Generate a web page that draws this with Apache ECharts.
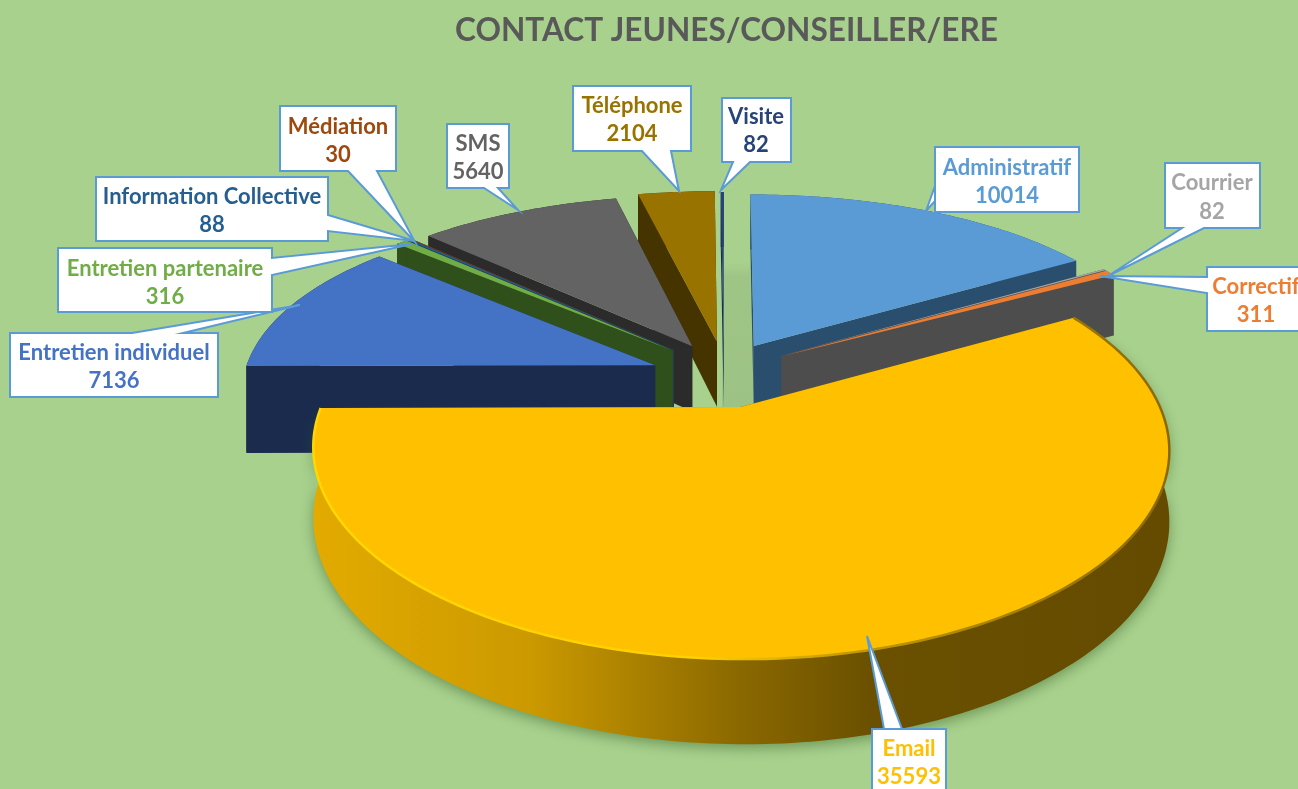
<!DOCTYPE html>
<html><head><meta charset="utf-8">
<style>html,body{margin:0;padding:0;background:#A9D18E}#c{width:1298px;height:789px}</style>
<script src="https://cdn.jsdelivr.net/npm/echarts@6/dist/echarts.min.js"></script>
</head><body><div id="c"></div>
<script>
const categories=['Administratif','Courrier','Correctif','Email','Entretien individuel','Entretien partenaire','Information Collective','Médiation','SMS','Téléphone','Visite'];
const values=[10014,82,311,35593,7136,316,88,30,5640,2104,82];
const topColors=['#5B9BD5','#A5A5A5','#ED7D31','#FFC000','#4472C4','#70AD47','#255E91','#9E480E','#636363','#997300','#264478'];
const wallColors=['#2A4E6E','#4D4D4D','#4D4D4D','#6A5000','#1A2B4E','#2F4F1B','#1B3F60','#5A2A08','#2B2B2B','#453300','#1A2F55'];
const textColors=['#5B9BD5','#A5A5A5','#ED7D31','#FFC000','#4472C4','#70AD47','#255E91','#9E480E','#636363','#997300','#264478'];
const title='CONTACT JEUNES/CONSEILLER/ERE';

// drawing layout (not data)
const drawOrder=[10,9,8,7,6,5,4,0,1,2,3];
const explode=[.15,.17,.17,.175,.18,.172,.172,.172,.16,.15,.15];
const wallH=[67,67,67,66,88,67,67,67,67,67,67];
const nudgeY=[-2,0,0,2,5,0,0,0,0,-3,-2];
const nudgeX=[0,-2,-2,-2,0,0,0,0,0,0,0];
const xPersp=[.7,.7,.7,1,.7,.7,.7,.7,.7,.7,.7];
const radiusScale=[1,1,1,.985,1,1,1,1,1,1,1];
const P={cx:724,cy:372,R:412,k:189,d:5.2};
const callouts=[
 {box:[935,147,1079,212],base:[[935,186],[935,201]],tip:[926,211],side:'l',text:[1007,168,196]},
 {box:[1165,163,1260,228],base:[[1204,228],[1182,228]],tip:[1108,276],side:'b',text:[1212,183,212]},
 {box:[1207,267,1310,331],base:[[1207,293],[1207,277]],tip:[1100,276],side:'l',text:[1256,287,315]},
 {box:[872,729,946,800],base:[[902,729],[884,729]],tip:[867,636],side:'t',text:[909,749,777]},
 {box:[10,333,218,397],base:[[132,333],[183,333]],tip:[300,305],side:'t',text:[114,353,381]},
 {box:[58,248,272,312],base:[[272,258],[272,275]],tip:[412,244],side:'r',text:[165,269,297]},
 {box:[96,177,328,241],base:[[328,215],[328,231]],tip:[415,241],side:'r',text:[212,197,225]},
 {box:[280,106,396,171],base:[[377,171],[348,171]],tip:[415,242],side:'b',text:[338,127,155]},
 {box:[447,124,509,188],base:[[498,188],[484,188]],tip:[518,210],side:'b',text:[478,144,172]},
 {box:[573,86,691,151],base:[[671,151],[642,151]],tip:[679,191],side:'b',text:[632,106,134]},
 {box:[722,98,791,162],base:[[750,162],[733,162]],tip:[721,190],side:'b',text:[756,117,145]}
];

const total=values.reduce((a,b)=>a+b,0);
const starts=[];values.reduce((acc,v,i)=>{starts[i]=acc;return acc+v/total*360;},0);
const rad=a=>a*Math.PI/180;
function project(i,X,Z,h){const s=P.d/(P.d-Z);return [P.cx+nudgeX[i]+X*P.R*radiusScale[i]*Math.pow(s,xPersp[i]),P.cy+nudgeY[i]+(Z*P.k+h)*s];}
function sliceGeom(i){
  const a0=starts[i],a1=a0+values[i]/total*360,mid=rad((a0+a1)/2),e=explode[i],H=wallH[i];
  const ox=Math.sin(mid)*e,oz=-Math.cos(mid)*e;
  const arc=(h)=>{const pts=[],n=Math.max(2,Math.ceil(a1-a0));for(let j=0;j<=n;j++){const t=rad(a0+(a1-a0)*j/n);pts.push(project(i,ox+Math.sin(t),oz-Math.cos(t),h));}return pts;};
  return {apexT:project(i,ox,oz,0),apexB:project(i,ox,oz,H),arcT:arc(0),arcB:arc(H)};
}
function renderSlice(params,api){
  const i=api.value(0),g=sliceGeom(i),n=g.arcT.length-1;
  const wall=i===3?{type:'linear',x:312,y:0,x2:1172,y2:0,global:true,colorStops:[{offset:0,color:'#E3AB00'},{offset:.25,color:'#CC9A00'},{offset:.5,color:'#8A6800'},{offset:.65,color:'#6A5000'},{offset:1,color:'#654B00'}]}:wallColors[i];
  const shadow=i===3?{shadowColor:'rgba(50,90,30,.5)',shadowBlur:14,shadowOffsetY:4}:{};
  const children=[
    {type:'polygon',shape:{points:[g.apexT,g.arcT[0],g.arcB[0],g.apexB]},style:{fill:wallColors[i]}},
    {type:'polygon',shape:{points:[g.apexT,g.arcT[n],g.arcB[n],g.apexB]},style:{fill:wallColors[i]}},
    {type:'polygon',shape:{points:g.arcT.concat(g.arcB.slice().reverse())},style:Object.assign({fill:wall},shadow)},
    {type:'polygon',shape:{points:[g.apexT].concat(g.arcT)},style:{fill:topColors[i]}}
  ];
  if(i===3){
    children.push({type:'polyline',shape:{points:g.arcT},style:{fill:'none',lineWidth:2.5,stroke:{type:'linear',x:312,y:0,x2:1172,y2:0,global:true,colorStops:[{offset:0,color:'#FFD800'},{offset:.45,color:'#FFD000'},{offset:.62,color:'#C59A00'},{offset:1,color:'#8A6800'}]}}});
  }
  return {type:'group',children};
}
function renderCallout(params,api){
  const i=api.value(0),c=callouts[i],[x0,y0,x1,y1]=c.box,[b0,b1]=c.base;
  const side={t:[[x0,y0],b0,c.tip,b1,[x1,y0],[x1,y1],[x0,y1]],
    r:[[x0,y0],[x1,y0],b0,c.tip,b1,[x1,y1],[x0,y1]],
    b:[[x0,y0],[x1,y0],[x1,y1],b0,c.tip,b1,[x0,y1]],
    l:[[x0,y0],[x1,y0],[x1,y1],[x0,y1],b0,c.tip,b1]}[c.side];
  const font='bold 22px Lato, "Open Sans", sans-serif';
  return {type:'group',children:[
    {type:'polygon',shape:{points:side},style:{fill:'#fff',stroke:'#5B9BD5',lineWidth:2}},
    {type:'text',style:{text:categories[i],x:c.text[0],y:c.text[1],fill:textColors[i],font,align:'center',verticalAlign:'middle'}},
    {type:'text',style:{text:String(values[i]),x:c.text[0],y:c.text[2],fill:textColors[i],font,align:'center',verticalAlign:'middle'}}
  ]};
}
const chart=echarts.init(document.getElementById('c'),null,{renderer:'canvas'});
chart.setOption({
  animation:false,
  backgroundColor:'#A9D18E',
  title:{text:title,left:450,top:10,textStyle:{color:'#595959',fontFamily:'Lato',fontWeight:'bold',fontSize:31.6}},
  graphic:[{type:'rect',z:1,shape:{x:722,y:262,width:32,height:150},style:{fill:{type:'linear',x:0,y:0,x2:0,y2:1,colorStops:[{offset:0,color:'#A9D18E'},{offset:.1,color:'#9FC586'},{offset:1,color:'#9DC285'}]}}}],
  series:[
    {type:'custom',coordinateSystem:'none',renderItem:renderSlice,data:drawOrder.map(i=>[i,values[i]]),clip:false,silent:true,z:2},
    {type:'custom',coordinateSystem:'none',renderItem:renderCallout,data:categories.map((n,i)=>[i,values[i]]),clip:false,silent:true,z:3}
  ]
});
</script></body></html>
